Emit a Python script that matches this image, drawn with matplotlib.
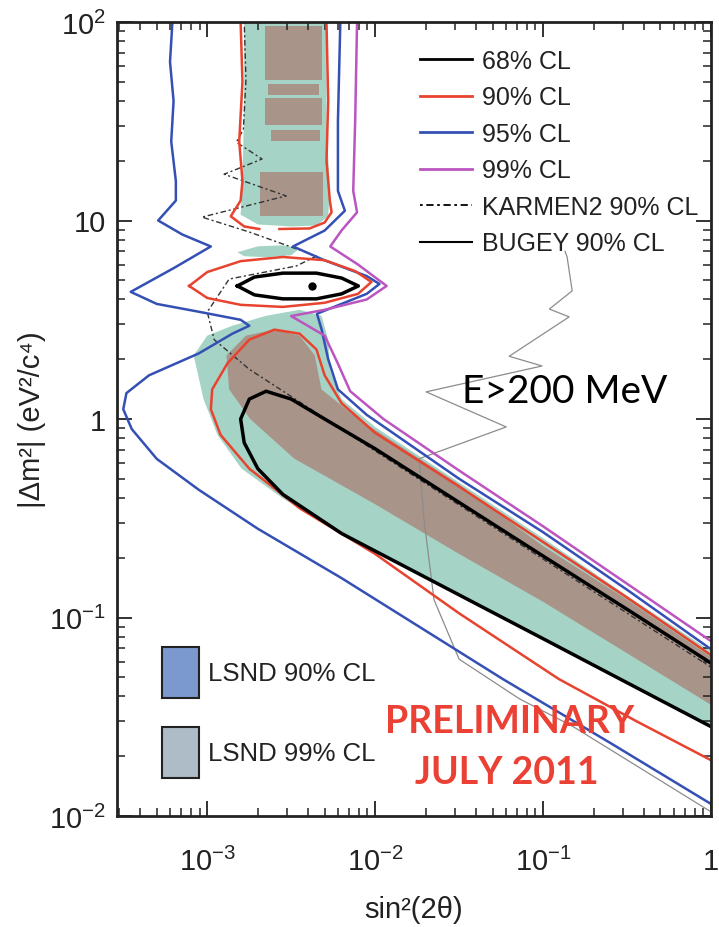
import matplotlib
matplotlib.use('Agg')
import matplotlib.pyplot as plt
from matplotlib.lines import Line2D
from matplotlib.patches import Patch

plt.rcParams['font.family'] = ['Liberation Sans', 'DejaVu Sans']
plt.rcParams['mathtext.default'] = 'regular'

# ---- data: (sin^2 2theta, dm^2) ----
# 95% CL (blue) left branch: upper band, bulge, lower loop, diagonal
blue_left_x = [6.2e-4, 6.0e-4, 6.3e-4, 6.1e-4, 6.5e-4, 6.5e-4, 5.1e-4, 7.1e-4, 1.05e-3, 6.3e-4,
               3.5e-4, 5.0e-4, 8.9e-4, 1.58e-3, 1.78e-3, 1.41e-3, 8.9e-4, 4.5e-4, 3.3e-4, 3.16e-4,
               3.55e-4, 5.0e-4, 8.9e-4, 2.0e-3, 6.3e-3, 0.0575, 0.25, 1.0]
blue_left_y = [100, 63, 40, 25, 15.8, 12.6, 10, 8.5, 7.4, 5.75,
               4.37, 3.8, 3.47, 3.16, 2.95, 2.69, 2.14, 1.66, 1.35, 1.12,
               0.89, 0.63, 0.44, 0.28, 0.158, 0.049, 0.0234, 0.0115]
# 95% CL right branch
blue_right_x = [6.2e-3, 6.0e-3, 6.0e-3, 6.6e-3, 5.0e-3, 3.24e-3, 5.0e-3, 8.9e-3, 0.0106, 8.9e-3,
                6.3e-3, 4.5e-3, 4.8e-3, 5.25e-3, 6.0e-3, 8.9e-3, 0.0316, 0.1, 0.316, 1.0]
blue_right_y = [100, 31.6, 14.1, 11.2, 8.9, 7.4, 6.3, 5.25, 4.79, 4.27,
                3.8, 3.39, 2.82, 2.0, 1.41, 1.05, 0.5, 0.269, 0.138, 0.0692]
# 99% CL (magenta)
mag_x = [7.8e-3, 7.6e-3, 7.4e-3, 7.8e-3, 6.3e-3, 5.4e-3, 7.9e-3, 0.0117, 8.9e-3, 5.0e-3,
         3.16e-3, 5.0e-3, 6.0e-3, 7.1e-3, 0.0112, 0.0316, 0.1, 0.316, 1.0]
mag_y = [100, 31.6, 14.1, 11.0, 8.9, 7.4, 6.0, 4.68, 4.0, 3.55,
         3.3, 2.63, 1.9, 1.38, 1.0, 0.55, 0.288, 0.148, 0.076]
# 90% CL (red): upper band (two pieces), island, lower region
red_top_left_x = [1.58e-3, 1.62e-3, 1.55e-3, 1.62e-3, 1.58e-3, 1.38e-3, 1.66e-3, 2.04e-3]
red_top_left_y = [100, 50, 25, 15.8, 12.6, 10.5, 9.33, 9.06]
red_top_right_x = [2.69e-3, 4.07e-3, 5.0e-3, 5.5e-3, 5.37e-3, 5.13e-3, 5.25e-3, 5.13e-3]
red_top_right_y = [9.06, 9.12, 9.77, 11.0, 12.6, 20, 40, 100]
red_isl_x = [7.8e-4, 1.0e-3, 1.58e-3, 2.82e-3, 5.0e-3, 7.6e-3, 9.5e-3, 7.9e-3, 5.0e-3, 2.82e-3,
             1.58e-3, 1.0e-3, 7.8e-4]
red_isl_y = [4.68, 5.5, 6.24, 6.55, 6.31, 5.56, 4.9, 4.27, 3.85, 3.67, 3.76, 4.07, 4.68]
red_low_x = [1.0, 0.316, 0.1, 0.0316, 0.01, 6.31e-3, 5.0e-3, 4.47e-3, 3.55e-3, 2.51e-3,
             1.78e-3, 1.32e-3, 1.07e-3, 1.05e-3, 1.2e-3, 1.78e-3, 3.55e-3, 0.01, 0.0316, 0.124,
             0.355, 1.0]
red_low_y = [0.0646, 0.126, 0.24, 0.457, 0.851, 1.20, 1.66, 2.24, 2.69, 2.82,
             2.51, 1.91, 1.41, 1.12, 0.832, 0.562, 0.355, 0.209, 0.105, 0.049,
             0.0302, 0.0191]
# 68% CL (black): island and lower tongue
blk_isl_x = [1.51e-3, 1.91e-3, 2.82e-3, 4.47e-3, 6.31e-3, 7.94e-3, 6.31e-3, 4.47e-3, 2.82e-3,
             1.91e-3, 1.51e-3]
blk_isl_y = [4.68, 5.19, 5.43, 5.43, 5.13, 4.68, 4.27, 4.03, 4.03, 4.22, 4.68]
blk_low_x = [1.0, 0.316, 0.1, 0.0316, 0.01, 5.0e-3, 3.16e-3, 2.24e-3, 1.78e-3, 1.58e-3,
             1.66e-3, 2.0e-3, 2.82e-3, 6.31e-3, 0.0316, 0.1, 0.283, 1.0]
blk_low_y = [0.0589, 0.110, 0.204, 0.380, 0.708, 1.0, 1.26, 1.38, 1.26, 1.0,
             0.759, 0.562, 0.417, 0.265, 0.130, 0.0782, 0.0493, 0.0282]
best_fit = (4.2e-3, 4.68)
# KARMEN2 90% CL
karmen_x = [1.66e-3, 1.70e-3, 1.64e-3, 1.49e-3, 2.12e-3, 1.26e-3, 2.95e-3, 9.3e-4, 1.78e-3, 4.47e-3,
            3.39e-3, 1.35e-3, 1.0e-3, 1.1e-3, 1.78e-3, 0.01, 0.1, 1.0]
karmen_y = [100, 51.3, 28.8, 24.8, 20.4, 17.1, 13.3, 10.4, 8.75, 6.62,
            5.9, 5.07, 3.46, 2.51, 1.78, 0.69, 0.197, 0.0562]
# BUGEY 90% CL
bugey_x = [0.135, 0.139, 0.149, 0.109, 0.143, 0.0628, 0.0986, 0.0201, 0.0603, 0.0183,
           0.0195, 0.0224, 0.0316, 0.0724, 0.149, 0.883, 1.0]
bugey_y = [7.0, 6.55, 4.42, 3.58, 3.27, 2.07, 1.85, 1.37, 0.912, 0.631,
           0.316, 0.123, 0.0617, 0.0389, 0.0284, 0.0112, 0.0105]
# filled allowed regions
teal_top_x = [1.66e-3, 5.13e-3, 5.13e-3, 5.37e-3, 5.25e-3, 4.47e-3, 3.16e-3, 2.0e-3, 1.58e-3, 1.62e-3, 1.66e-3]
teal_top_y = [100, 100, 31.6, 14.1, 10.5, 9.44, 9.33, 9.55, 10.7, 15.8, 39.8]
teal_mid_x = [1.51e-3, 2.0e-3, 2.82e-3, 3.55e-3, 3.16e-3, 2.24e-3, 1.66e-3]
teal_mid_y = [6.92, 7.41, 7.5, 7.24, 6.68, 6.53, 6.61]
teal_low_x = [8.3e-4, 1.0e-3, 1.41e-3, 2.24e-3, 3.55e-3, 4.79e-3, 5.25e-3, 5.37e-3, 6.31e-3, 0.01,
              0.0316, 0.1, 0.316, 1.0, 1.0, 0.283, 0.1, 0.0316, 6.31e-3, 2.82e-3,
              1.6e-3, 1.15e-3, 9.5e-4]
teal_low_y = [2.09, 2.63, 2.95, 3.31, 3.55, 3.31, 2.51, 1.78, 1.26, 0.912,
              0.479, 0.251, 0.129, 0.0676, 0.0282, 0.0493, 0.0782, 0.130, 0.265, 0.398,
              0.562, 0.832, 1.26]
brown_low_x = [1.3e-3, 1.7e-3, 2.51e-3, 3.55e-3, 4.37e-3, 4.79e-3, 7.94e-3, 0.0316, 0.1, 0.316,
               1.0, 1.0, 0.316, 0.1, 0.0316, 0.01, 3.3e-3, 1.8e-3, 1.35e-3]
brown_low_y = [2.09, 2.63, 2.82, 2.63, 2.09, 1.41, 1.0, 0.468, 0.229, 0.123,
               0.0631, 0.0363, 0.0661, 0.120, 0.209, 0.372, 0.631, 1.0, 1.41]
# brown patches inside the high-dm2 band: (x_lo, x_hi, y_lo, y_hi)
brown_strips = [(2.2e-3, 4.8e-3, 51.3, 96), (2.3e-3, 4.6e-3, 42.7, 48.5),
                (2.2e-3, 4.8e-3, 30.2, 41.5), (2.4e-3, 4.7e-3, 25.1, 28.6),
                (2.05e-3, 4.9e-3, 10.5, 17.6)]

teal = '#a5d4c6'
brown = '#a9948a'
red = '#e8432e'
blue = '#3550b4'
mag = '#bb55c0'

fig = plt.figure(figsize=(7.19, 9.28), dpi=100)
ax = fig.add_axes([117 / 719, 1 - 817 / 928, 594 / 719, 794 / 928])
ax.set_xscale('log')
ax.set_yscale('log')

ax.fill(teal_top_x, teal_top_y, color=teal, lw=0)
ax.fill(teal_mid_x, teal_mid_y, color=teal, lw=0)
ax.fill(teal_low_x, teal_low_y, color=teal, lw=0)
ax.fill(brown_low_x, brown_low_y, color=brown, lw=0)
for x0, x1, y0, y1 in brown_strips:
    ax.fill_between([x0, x1], y0, y1, color=brown, lw=0)

ax.plot(bugey_x, bugey_y, color='#8c8c8c', lw=0.9)
ax.plot(karmen_x, karmen_y, color='#333333', lw=1.0, ls=(0, (1.5, 2, 4, 2)))
ax.plot(blue_left_x, blue_left_y, color=blue, lw=1.8)
ax.plot(blue_right_x, blue_right_y, color=blue, lw=1.8)
ax.plot(mag_x, mag_y, color=mag, lw=1.8)
ax.plot(red_top_left_x, red_top_left_y, color=red, lw=1.8)
ax.plot(red_top_right_x, red_top_right_y, color=red, lw=1.8)
ax.plot(red_isl_x, red_isl_y, color=red, lw=1.8)
ax.plot(red_low_x, red_low_y, color=red, lw=1.8)
ax.plot(blk_isl_x, blk_isl_y, color='black', lw=2.5)
ax.plot(blk_low_x, blk_low_y, color='black', lw=2.5)
ax.plot(*best_fit, 'o', color='black', ms=5)

ax.set_xlim(2.9e-4, 1)
ax.set_ylim(0.01, 100)
ax.set_xticks([1e-3, 1e-2, 1e-1, 1], [r'$10^{-3}$', r'$10^{-2}$', r'$10^{-1}$', '1'])
ax.set_yticks([1e-2, 1e-1, 1, 10, 100], [r'$10^{-2}$', r'$10^{-1}$', '1', '10', r'$10^{2}$'])
ax.tick_params(which='both', direction='in', top=True, right=True, labelsize=21, colors='#222222')
ax.tick_params(which='major', length=11, width=1.3)
ax.tick_params(which='minor', length=5.5, width=1.1)
ax.tick_params(axis='x', pad=22)
ax.tick_params(axis='y', pad=8)
for s in ax.spines.values():
    s.set_linewidth(2)
    s.set_color('#222222')

ax.set_xlabel('sin²(2θ)', fontsize=21, color='#222222', labelpad=14)
ax.set_ylabel('|Δm²| (eV²/c⁴)', fontsize=21, color='#222222', labelpad=2)

handles = [Line2D([], [], color='black', lw=2),
           Line2D([], [], color=red, lw=2),
           Line2D([], [], color=blue, lw=2),
           Line2D([], [], color=mag, lw=2),
           Line2D([], [], color='black', lw=1.3, ls=(0, (1.5, 2, 4, 2))),
           Line2D([], [], color='black', lw=1.5)]
labels = ['68% CL', '90% CL', '95% CL', '99% CL', 'KARMEN2 90% CL', 'BUGEY 90% CL']
leg = ax.legend(handles, labels, loc='upper left', bbox_to_anchor=(0.51, 0.966), frameon=False,
                fontsize=18, handlelength=2.1, handletextpad=0.4, labelspacing=0.5,
                borderpad=0, borderaxespad=0, labelcolor='#222222')
ax.add_artist(leg)

lsnd = [Patch(facecolor='#7b98cf', edgecolor='#222222', lw=1.5),
        Patch(facecolor='#aebcc7', edgecolor='#222222', lw=1.5)]
ax.legend(lsnd, ['LSND 90% CL', 'LSND 99% CL'], loc='upper left', bbox_to_anchor=(0.076, 0.213),
          frameon=False, fontsize=18.5, handlelength=1.45, handleheight=2.7, handletextpad=0.35,
          labelspacing=1.1, borderpad=0, borderaxespad=0, labelcolor='#222222')

fig.text(510 / 719, 1 - 722 / 928, 'PRELIMINARY', ha='center', va='center', fontsize=27,
         family='Lato', weight='bold', color='#eb4034')
fig.text(507 / 719, 1 - 773 / 928, 'JULY 2011', ha='center', va='center', fontsize=27,
         family='Lato', weight='bold', color='#eb4034')
fig.text(462 / 719, 1 - 392 / 928, 'E>200 MeV', ha='left', va='center', fontsize=28,
         family='Lato', color='black')

fig.savefig('out.png', dpi=100)
